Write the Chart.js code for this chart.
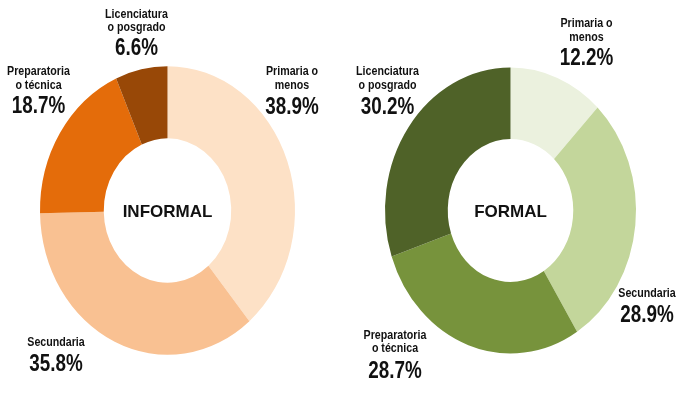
<!DOCTYPE html>
<html>
<head>
<meta charset="utf-8">
<script src="https://cdn.jsdelivr.net/npm/chart.js@4.4.1/dist/chart.umd.min.js"></script>
<style>
  html, body { margin: 0; padding: 0; background: #fff; }
  #wrap { position: relative; width: 686px; height: 399px; overflow: hidden; }
  .box { position: absolute; top: 0; width: 343px; height: 399px; }
</style>
</head>
<body>
<div id="wrap">
  <div class="box" style="left:0"><canvas id="informal"></canvas></div>
  <div class="box" style="left:343px"><canvas id="formal"></canvas></div>
</div>
<script>
// data
var categories = ['Primaria o menos', 'Secundaria', 'Preparatoria o técnica', 'Licenciatura o posgrado'];
var labelLines = [['Primaria o', 'menos'], ['Secundaria'], ['Preparatoria', 'o técnica'], ['Licenciatura', 'o posgrado']];
var informalValues = [38.9, 35.8, 18.7, 6.6];
var formalValues = [12.2, 28.9, 28.7, 30.2];
var titles = ['INFORMAL', 'FORMAL'];

var informalColors = ['#FDE1C6', '#F9C192', '#E46C0A', '#984807'];
var formalColors = ['#EBF1DE', '#C3D69B', '#77933C', '#4F6228'];

// label placement (x, baseline of each line, baseline of percent) in canvas coords
var informalPos = [
    { x: 292, lines: [75, 89], pct: 114 },
    { x: 56, lines: [346], pct: 371 },
    { x: 38.5, lines: [75, 89], pct: 113 },
    { x: 136.5, lines: [18, 31], pct: 55 }
];
var formalPos = [
    { x: 243.5, lines: [27, 41], pct: 65 },
    { x: 304, lines: [297], pct: 322 },
    { x: 52, lines: [339, 352], pct: 378 },
    { x: 44.5, lines: [75, 89], pct: 114 }
];

// narrow font available?
var narrow = (function() {
    var c = document.createElement('canvas').getContext('2d');
    c.font = 'bold 20px monospace';
    var a = c.measureText('Licenciatura o posgrado').width;
    c.font = 'bold 20px "Liberation Sans Narrow", monospace';
    return c.measureText('Licenciatura o posgrado').width !== a;
})();
var labelFamily = narrow ? '"Liberation Sans Narrow"' : '"Liberation Sans", Arial';
var labelSx = narrow ? 1 : 0.82;

function drawText(ctx, txt, x, y, font, sx) {
    ctx.save();
    ctx.font = font;
    ctx.translate(x, y);
    ctx.scale(sx, 1);
    ctx.fillText(txt, 0, 0);
    ctx.restore();
}

// stretch the ring vertically, like the original picture
var ellipsePlugin = {
    id: 'ellipse',
    beforeDatasetsDraw: function(chart, args, opts) {
        var a = chart.chartArea;
        var cx = (a.left + a.right) / 2, cy = (a.top + a.bottom) / 2;
        var ctx = chart.ctx;
        ctx.save();
        ctx.translate(cx, cy);
        ctx.scale(1, opts.sy);
        ctx.translate(-cx, -cy);
    },
    afterDatasetsDraw: function(chart) {
        chart.ctx.restore();
    }
};

var labelPlugin = {
    id: 'labels',
    afterDraw: function(chart, args, opts) {
        var ctx = chart.ctx;
        var a = chart.chartArea;
        var values = chart.data.datasets[0].data;
        ctx.save();
        ctx.fillStyle = '#111';
        ctx.textAlign = 'center';
        ctx.textBaseline = 'alphabetic';
        opts.pos.forEach(function(p, i) {
            labelLines[i].forEach(function(line, j) {
                drawText(ctx, line, p.x, p.lines[j], 'bold 13px ' + labelFamily, labelSx);
            });
            drawText(ctx, values[i].toFixed(1) + '%', p.x, p.pct, 'bold 23px ' + labelFamily, labelSx);
        });
        drawText(ctx, opts.title, (a.left + a.right) / 2, (a.top + a.bottom) / 2 + 6.5,
            'bold 17px "Liberation Sans", Arial', 1);
        ctx.restore();
    }
};

function makeDonut(id, values, colors, pad, sy, pos, title) {
    var ctx = document.getElementById(id);
    return new Chart(ctx, {
        type: 'doughnut',
        data: {
            labels: categories,
            datasets: [{
                data: values,
                backgroundColor: colors,
                borderWidth: 0
            }]
        },
        options: {
            responsive: true,
            maintainAspectRatio: false,
            animation: false,
            cutout: '50%',
            layout: { padding: pad },
            plugins: {
                legend: { display: false },
                tooltip: { enabled: false },
                ellipse: { sy: sy },
                labels: { pos: pos, title: title }
            }
        },
        plugins: [ellipsePlugin, labelPlugin]
    });
}

makeDonut('informal', informalValues, informalColors,
    { left: 40, right: 48, top: 83, bottom: 61 }, 1.132, informalPos, titles[0]);
makeDonut('formal', formalValues, formalColors,
    { left: 42, right: 50, top: 85, bottom: 63 }, 1.139, formalPos, titles[1]);
</script>
</body>
</html>
